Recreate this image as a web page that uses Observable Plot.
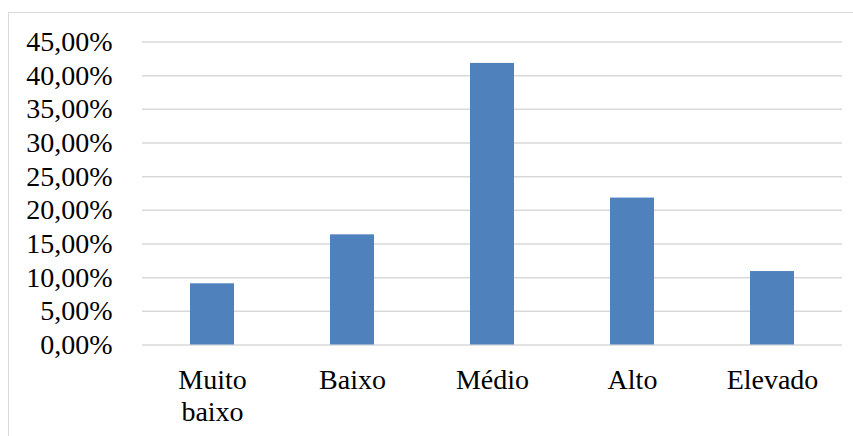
<!DOCTYPE html>
<html>
<head>
<meta charset="utf-8">
<script src="https://cdn.jsdelivr.net/npm/d3@7"></script>
<script src="https://cdn.jsdelivr.net/npm/@observablehq/plot@0.6"></script>
<style>
  html, body { margin: 0; padding: 0; background: #fff; }
  #wrap { position: relative; width: 853px; height: 436px; }
  #frame { position: absolute; left: 8px; top: 12px; right: 0; bottom: 0;
           border-top: 1px solid #d9d9d9; border-left: 1px solid #d9d9d9; pointer-events: none; }
  svg { display: block; }
</style>
</head>
<body>
<div id="wrap"><div id="frame"></div></div>
<script>
const categories = ["Muito baixo", "Baixo", "Médio", "Alto", "Elevado"];
const values = [0.0909, 0.1636, 0.4182, 0.2182, 0.1091];
const yTicks = [0, 0.05, 0.10, 0.15, 0.20, 0.25, 0.30, 0.35, 0.40, 0.45];

const data = categories.map((c, i) => ({category: c, value: values[i]}));
const fmt = d => (d * 100).toFixed(2).replace(".", ",") + "%";

const chart = Plot.plot({
  width: 853,
  height: 436,
  marginLeft: 142,
  marginRight: 11,
  marginTop: 41.5,
  marginBottom: 91.5,
  style: {fontFamily: "'Liberation Serif', 'Times New Roman', serif", fontSize: "28px", color: "#000", background: "transparent"},
  x: {domain: categories, paddingInner: 0.686, paddingOuter: 0.343, label: null},
  y: {domain: [0, 0.45], label: null},
  marks: [
    Plot.gridY(yTicks, {stroke: "#d9d9d9", strokeOpacity: 1, strokeWidth: 1.5}),
    Plot.barY(data, {x: "category", y: "value", fill: "#4f81bd"}),
    Plot.axisY(yTicks, {tickSize: 0, tickPadding: 30, tickFormat: fmt, fontSize: 28, label: null}),
    Plot.axisX({tickSize: 0, tickPadding: 22, fontSize: 28, lineHeight: 1.12,
      tickFormat: d => d === "Muito baixo" ? "Muito\nbaixo" : d, label: null})
  ]
});
chart.style.position = "absolute";
chart.style.left = "0";
chart.style.top = "0";
document.getElementById("wrap").prepend(chart);
</script>
</body>
</html>
